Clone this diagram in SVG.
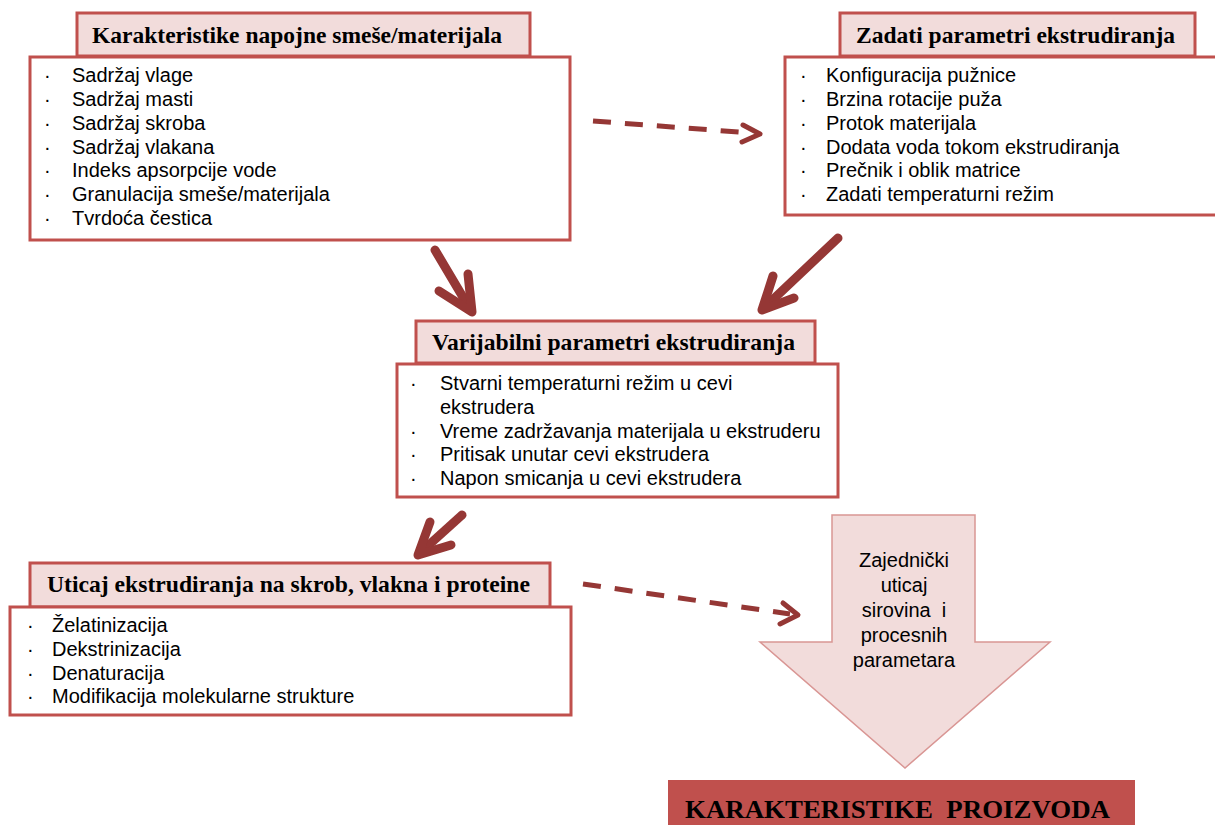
<svg xmlns="http://www.w3.org/2000/svg" width="1215" height="825" viewBox="0 0 1215 825">
<style>
.hdr{fill:#f2dcdb;stroke:#c0504d;stroke-width:3}
.body{fill:#ffffff;stroke:#c0504d;stroke-width:3}
.ht{font-family:"Liberation Serif","Times New Roman",serif;font-weight:bold;font-size:23.5px;fill:#000}
.bt{font-family:"Liberation Sans",Arial,sans-serif;font-size:20px;fill:#000}
.solid{fill:none;stroke:#953735;stroke-width:9;stroke-linecap:round;stroke-linejoin:round}
.dash{fill:none;stroke:#953735;stroke-width:5;stroke-dasharray:18 14}
.head{fill:none;stroke:#953735;stroke-width:5;stroke-linecap:round;stroke-linejoin:round}
</style>
<rect width="1215" height="825" fill="#ffffff"/>

<g id="connectors">
  <path class="dash" d="M593,121 L752,133"/>
  <path class="head" d="M743,125 L760,134 L742,142"/>
  <path class="dash" d="M583,584 L790,614"/>
  <path class="head" d="M783,603 L798,615 L780,624"/>
  <path class="solid" d="M435,250 L470,309"/>
  <path class="solid" d="M439,291 L472,312 L468,274"/>
  <path class="solid" d="M838,238 L765,307"/>
  <path class="solid" d="M773,276 L762,310 L794,298"/>
  <path class="solid" d="M462,515 L421,552"/>
  <path class="solid" d="M430,522 L418,555 L451,545"/>
</g>

<g id="node-karakteristike-smese">
  <rect class="hdr" x="77" y="13" width="453" height="43"/>
  <rect class="body" x="30" y="57" width="540" height="183"/>
  <text class="ht" x="92" y="43" textLength="410" lengthAdjust="spacingAndGlyphs">Karakteristike napojne smeše/materijala</text>
  <g class="bt">
    <text x="44" y="82">·</text><text x="72" y="82">Sadržaj vlage</text>
    <text x="44" y="106">·</text><text x="72" y="106">Sadržaj masti</text>
    <text x="44" y="130">·</text><text x="72" y="130">Sadržaj skroba</text>
    <text x="44" y="154">·</text><text x="72" y="154">Sadržaj vlakana</text>
    <text x="44" y="177">·</text><text x="72" y="177">Indeks apsorpcije vode</text>
    <text x="44" y="201">·</text><text x="72" y="201">Granulacija smeše/materijala</text>
    <text x="44" y="225">·</text><text x="72" y="225">Tvrdoća čestica</text>
  </g>
</g>

<g id="node-zadati-parametri">
  <rect class="hdr" x="840" y="13" width="355" height="43"/>
  <rect class="body" x="785" y="57" width="440" height="158"/>
  <text class="ht" x="856" y="43" textLength="319" lengthAdjust="spacingAndGlyphs">Zadati parametri ekstrudiranja</text>
  <g class="bt">
    <text x="800" y="82">·</text><text x="826" y="82">Konfiguracija pužnice</text>
    <text x="800" y="106">·</text><text x="826" y="106">Brzina rotacije puža</text>
    <text x="800" y="130">·</text><text x="826" y="130">Protok materijala</text>
    <text x="800" y="154">·</text><text x="826" y="154">Dodata voda tokom ekstrudiranja</text>
    <text x="800" y="177">·</text><text x="826" y="177">Prečnik i oblik matrice</text>
    <text x="800" y="201">·</text><text x="826" y="201">Zadati temperaturni režim</text>
  </g>
</g>

<g id="node-varijabilni-parametri">
  <rect class="hdr" x="416" y="321" width="399" height="42"/>
  <rect class="body" x="397" y="364" width="441" height="133"/>
  <text class="ht" x="432" y="350" textLength="363" lengthAdjust="spacingAndGlyphs">Varijabilni parametri ekstrudiranja</text>
  <g class="bt">
    <text x="410" y="390">·</text><text x="440" y="390">Stvarni temperaturni režim u cevi</text>
    <text x="440" y="414">ekstrudera</text>
    <text x="410" y="438">·</text><text x="440" y="438">Vreme zadržavanja materijala u ekstruderu</text>
    <text x="410" y="461">·</text><text x="440" y="461">Pritisak unutar cevi ekstrudera</text>
    <text x="410" y="485">·</text><text x="440" y="485">Napon smicanja u cevi ekstrudera</text>
  </g>
</g>

<g id="node-uticaj-ekstrudiranja">
  <rect class="hdr" x="30" y="563" width="520" height="44"/>
  <rect class="body" x="10" y="607" width="561" height="108"/>
  <text class="ht" x="47" y="592" textLength="483" lengthAdjust="spacingAndGlyphs">Uticaj ekstrudiranja na skrob, vlakna i proteine</text>
  <g class="bt">
    <text x="27" y="632">·</text><text x="52" y="632">Želatinizacija</text>
    <text x="27" y="656">·</text><text x="52" y="656">Dekstrinizacija</text>
    <text x="27" y="680">·</text><text x="52" y="680">Denaturacija</text>
    <text x="27" y="703">·</text><text x="52" y="703">Modifikacija molekularne strukture</text>
  </g>
</g>

<g id="node-zajednicki-uticaj">
  <polygon points="832,515 975,515 975,642 1050,642 905,768 760,642 832,642" fill="#f2dcdb" stroke="#d99694" stroke-width="1.5"/>
  <g class="bt" text-anchor="middle">
    <text x="904" y="567">Zajednički</text>
    <text x="904" y="592">uticaj</text>
    <text x="904" y="617" xml:space="preserve">sirovina  i</text>
    <text x="904" y="642">procesnih</text>
    <text x="904" y="667">parametara</text>
  </g>
</g>

<g id="node-karakteristike-proizvoda">
  <rect x="668" y="780" width="467" height="50" fill="#c0504d"/>
  <text x="685" y="818" font-family="'Liberation Serif','Times New Roman',serif" font-weight="bold" font-size="26" fill="#000" textLength="425" lengthAdjust="spacingAndGlyphs" xml:space="preserve">KARAKTERISTIKE  PROIZVODA</text>
</g>
</svg>
